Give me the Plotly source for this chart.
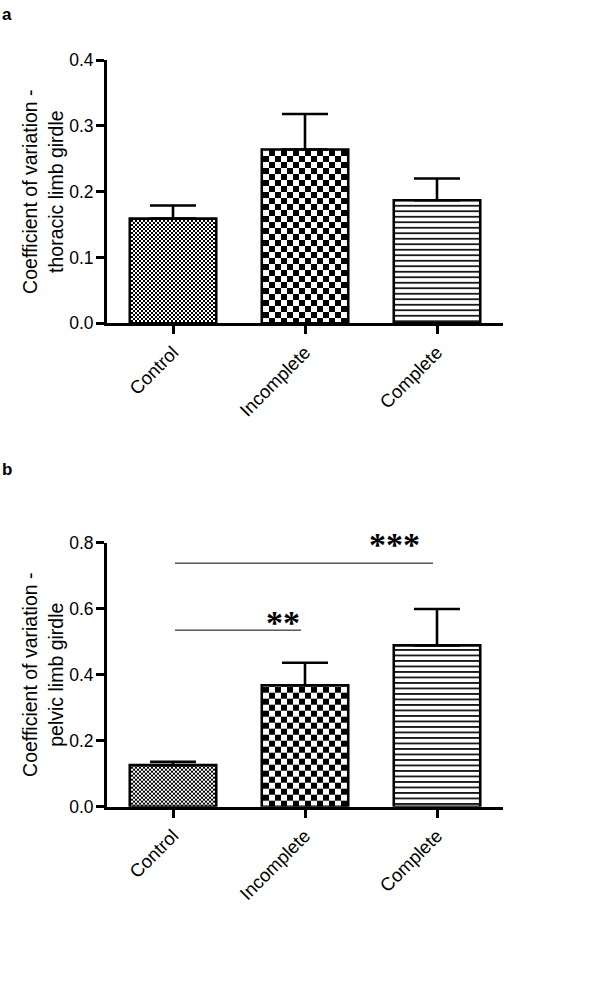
import plotly.graph_objects as go

# ---------------- data ----------------
categories = ["Control", "Incomplete", "Complete"]
thoracic_mean = [0.159, 0.264, 0.187]
thoracic_sem = [0.020, 0.054, 0.033]
pelvic_mean = [0.126, 0.368, 0.489]
pelvic_sem = [0.010, 0.068, 0.110]
thoracic_ticks = [0.0, 0.1, 0.2, 0.3, 0.4]
pelvic_ticks = [0.0, 0.2, 0.4, 0.6, 0.8]
sig_pairs = [(0, 1), (0, 2)]
sig_levels = [0.535, 0.738]
sig_labels = ["**", "***"]
sig_label_x = [0.83, 1.68]
sig_label_shift = [-13, -2]

W, H = 600, 990
FONT = "Liberation Sans, Arial, sans-serif"

top_dom = [1 - 323.3 / H, 1 - 60 / H]
bot_dom = [1 - 806.7 / H, 1 - 542.7 / H]

fig = go.Figure()

pattern = dict(
    shape=["x", "x", "-"],
    size=[4, 8, 5.5],
    solidity=[0.5, 0.5, 0.3],
    fgcolor="black",
    bgcolor="white",
    fillmode="replace",
)

for mean, sem, xa, ya in [(thoracic_mean, thoracic_sem, "x", "y"),
                          (pelvic_mean, pelvic_sem, "x2", "y2")]:
    fig.add_trace(go.Bar(
        x=categories, y=mean, xaxis=xa, yaxis=ya,
        width=0.655,
        marker=dict(color="white", line=dict(color="black", width=2.6),
                    pattern=pattern),
        error_y=dict(type="data", array=sem, arrayminus=[0] * len(sem),
                     symmetric=False, color="black", thickness=2.6, width=23),
        showlegend=False, hoverinfo="skip",
    ))

axis_common = dict(
    showline=True, linecolor="black", linewidth=3,
    ticks="outside", tickwidth=2.6, ticklen=8, tickcolor="black",
    showgrid=False, zeroline=False, automargin=False,
)
xfont = dict(family=FONT, size=18.5, color="black")
yfont = dict(family=FONT, size=17.5, color="black")
tfont = dict(family=FONT, size=19.5, color="black")

fig.update_layout(
    xaxis=dict(domain=[0, 1], anchor="y", range=[-0.5, 2.5], tickangle=-45,
               tickfont=xfont, **axis_common),
    yaxis=dict(domain=top_dom, anchor="x", range=[0, 0.4],
               tickvals=thoracic_ticks, ticktext=[f"{v:.1f}" for v in thoracic_ticks],
               tickfont=yfont, ticklabelstandoff=-1,
               title=dict(text="Coefficient of variation -<br>thoracic limb girdle",
                          font=tfont, standoff=1),
               **axis_common),
    xaxis2=dict(domain=[0, 1], anchor="y2", range=[-0.5, 2.5], tickangle=-45,
                tickfont=xfont, **axis_common),
    yaxis2=dict(domain=bot_dom, anchor="x2", range=[0, 0.8],
                tickvals=pelvic_ticks, ticktext=[f"{v:.1f}" for v in pelvic_ticks],
                tickfont=yfont, ticklabelstandoff=-1,
                title=dict(text="Coefficient of variation -<br>pelvic limb girdle",
                           font=tfont, standoff=1),
                **axis_common),
    width=W, height=H,
    margin=dict(l=107, r=97, t=0, b=0, autoexpand=False),
    paper_bgcolor="white", plot_bgcolor="white",
)

# significance brackets
for (i, j), lvl, lab, lx, sh in zip(sig_pairs, sig_levels, sig_labels,
                                     sig_label_x, sig_label_shift):
    fig.add_shape(type="line", xref="x2", yref="y2",
                  x0=i + 0.015, x1=j - 0.03, y0=lvl, y1=lvl,
                  line=dict(color="black", width=1))
    fig.add_annotation(xref="x2", yref="y2", x=lx, y=lvl,
                       text=f"<b>{lab}</b>", showarrow=False, xanchor="center",
                       yanchor="bottom", yshift=sh,
                       font=dict(family="Liberation Serif, Times New Roman, serif",
                                 size=34, color="black"))

# panel letters
for lab, yy in [("a", 1 - 15 / H), ("b", 1 - 470 / H)]:
    fig.add_annotation(xref="paper", yref="paper", x=-107 / 396, y=yy, text=f"<b>{lab}</b>",
                       showarrow=False, xanchor="left", yanchor="middle",
                       font=dict(family=FONT, size=17, color="black"))

post = """
document.body.style.margin = '0';
document.body.style.padding = '0';
var gd = document.getElementById('{plot_id}');
var CHECK = [2, 6, 0];
var ns = 'http://www.w3.org/2000/svg';
function checker(pat, a) {
  while (pat.firstChild) pat.removeChild(pat.firstChild);
  pat.setAttribute('width', 2 * a); pat.setAttribute('height', 2 * a);
  pat.setAttribute('patternUnits', 'userSpaceOnUse');
  function r(x, y, w, h, c) {
    var e = document.createElementNS(ns, 'rect');
    e.setAttribute('x', x); e.setAttribute('y', y);
    e.setAttribute('width', w); e.setAttribute('height', h);
    e.setAttribute('fill', c); e.setAttribute('shape-rendering', 'crispEdges');
    pat.appendChild(e);
  }
  r(0, 0, 2 * a, 2 * a, 'white');
  r(0, 0, a, a, 'black');
  r(a, a, a, a, 'black');
}
gd.querySelectorAll('g.trace.bars').forEach(function (tr) {
  tr.querySelectorAll('g.point path').forEach(function (p, i) {
    var a = CHECK[i]; if (!a) return;
    var m = (p.style.fill || p.getAttribute('fill') || '').match(/#([^"')]+)/);
    if (!m) return;
    var pat = document.getElementById(m[1]);
    if (pat) checker(pat, a);
  });
});
"""

fig.write_html("out.html", post_script=post, config={"displayModeBar": False})
